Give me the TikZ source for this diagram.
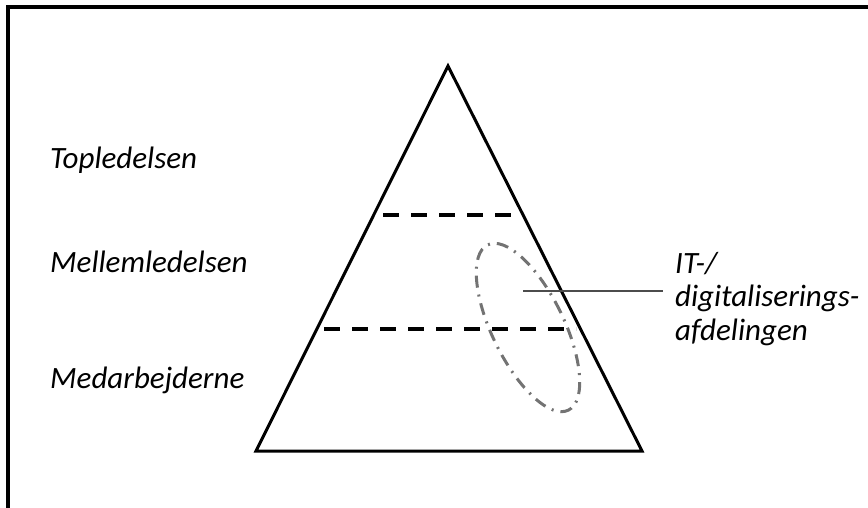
\documentclass[tikz,border=0pt]{standalone}
\usepackage{fontspec}
\setmainfont{Carlito}
\begin{document}
\begin{tikzpicture}[x=1pt,y=1pt,
  lbl/.style={font=\itshape\fontsize{31}{33.5}\selectfont, inner sep=0pt, anchor=base west},
  frameline/.style={line width=4pt, line cap=butt},
  pyr/.style={line width=3pt, line join=miter},
  level/.style={line width=4pt, dash pattern=on 16pt off 12pt},
  unit/.style={line width=3pt, draw=black!55, dash pattern=on 12pt off 7pt on 2pt off 7pt},
  pointer/.style={line width=1.4pt, draw=black!70}]
\useasboundingbox (0,0) rectangle (868,-508);
% frame (only top and left edges visible)
\draw[frameline] (7.5,-530) -- (7.5,-7) -- (890,-7);
% pyramid
\coordinate (apex) at (448,-66);
\coordinate (bl) at (256,-451);
\coordinate (br) at (642,-451);
\draw[pyr] (apex) -- (br) -- (bl) -- cycle;
% level separators
\coordinate (l1a) at (383,-215);
\coordinate (l1b) at (518,-215);
\coordinate (l2a) at (324,-329);
\coordinate (l2b) at (576,-329);
\draw[level] (l1a) -- (l1b);
\draw[level] (l2a) -- (l2b);
% IT unit ellipse
\coordinate (ec) at (528,-327.5);
\draw[unit, rotate around={26:(ec)}] (ec) ellipse [x radius=36, y radius=92];
% labels
\node[lbl] (top) at (50,-168) {Topledelsen};
\node[lbl] (mid) at (50,-272) {Mellemledelsen};
\node[lbl] (bot) at (50,-388) {Medarbejderne};
\node[lbl, align=left] (it) at (675,-340) {IT-/\\digitaliserings-\\afdelingen};
% pointer
\coordinate (itpt) at (523,-291);
\draw[pointer] (itpt) -- ([xshift=-12pt]it.west |- itpt);
\end{tikzpicture}
\end{document}
